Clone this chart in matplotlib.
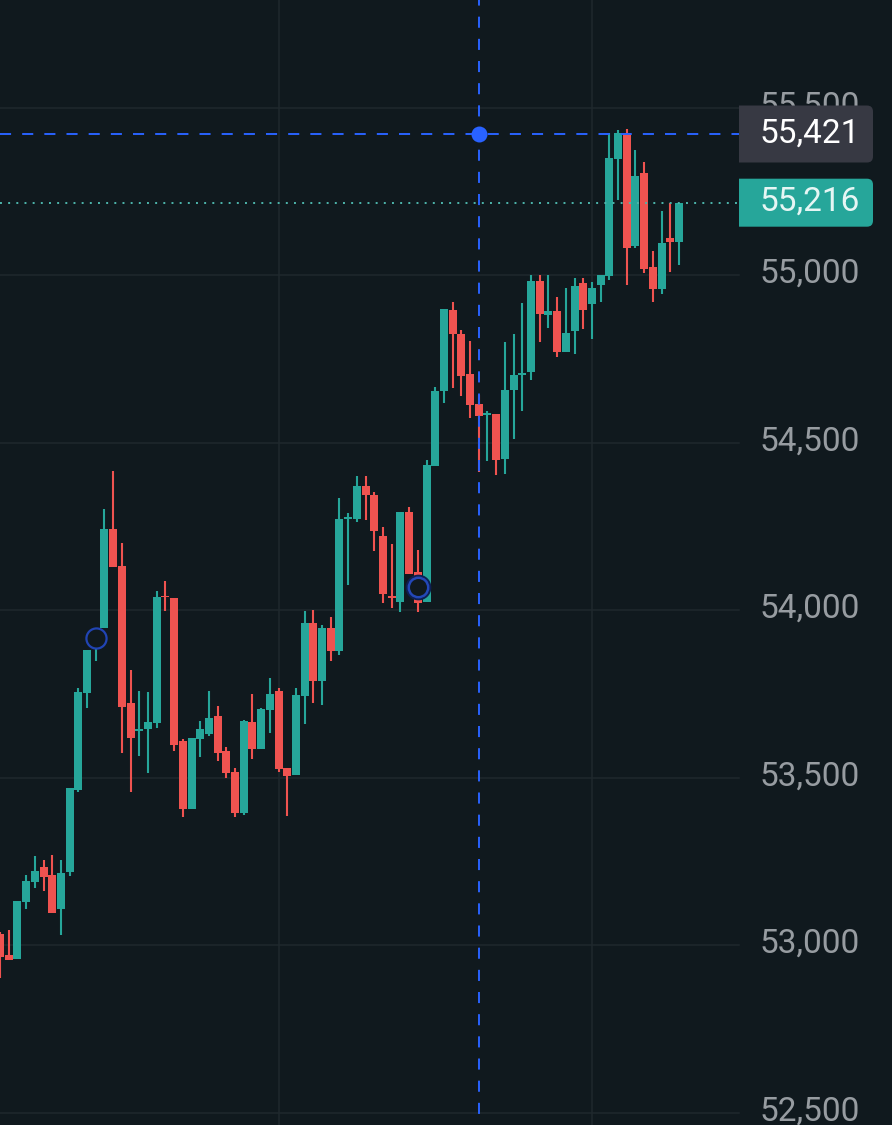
import matplotlib
matplotlib.use("Agg")
import matplotlib.pyplot as plt
from matplotlib.patches import PathPatch
from matplotlib.path import Path
from matplotlib.transforms import IdentityTransform, blended_transform_factory

plt.rcParams['font.family'] = ['Roboto', 'DejaVu Sans']

# candle data, one entry per bar
opens = [53033, 52970, 52958, 53128, 53188, 53233, 53209, 53107, 53218, 53463,
         53752, 53896, 53946, 54242, 54131, 53722, 53639, 53645, 53663, 54042,
         54036, 53609, 53406, 53615, 53630, 53684, 53579, 53516, 53394, 53666,
         53585, 53701, 53758, 53528, 53507, 53743, 53961, 53788, 53946, 53878,
         54272, 54272, 54370, 54343, 54221, 54042, 54024, 54293, 54113, 54024,
         54430, 54654, 54895, 54824, 54704, 54615, 54582, 54585, 54451, 54657,
         54701, 54710, 54982, 54880, 54892, 54770, 54833, 54976, 54913, 54970,
         54997, 55346, 55424, 55087, 55305, 55024, 54958, 55111, 55099]
closes = [52964, 52955, 53131, 53191, 53221, 53203, 53096, 53215, 53469, 53755,
          53881, 53934, 54242, 54128, 53710, 53618, 53645, 53666, 54039, 54039,
          53597, 53406, 53618, 53645, 53678, 53573, 53513, 53394, 53669, 53585,
          53704, 53749, 53525, 53504, 53746, 53961, 53788, 53946, 53878, 54272,
          54278, 54370, 54343, 54236, 54048, 54036, 54293, 54107, 54021, 54433,
          54654, 54898, 54824, 54698, 54612, 54579, 54588, 54448, 54657, 54701,
          54707, 54982, 54883, 54892, 54770, 54827, 54967, 54895, 54961, 55000,
          55349, 55424, 55081, 55296, 55018, 54958, 55096, 55099, 55216]
highs = [53039, 53045, 53131, 53209, 53266, 53254, 53269, 53254, 53469, 53767,
         53881, 53934, 54301, 54415, 54200, 53821, 53758, 53755, 54057, 54087,
         54036, 53615, 53618, 53669, 53758, 53713, 53591, 53528, 53672, 53749,
         53707, 53797, 53767, 53528, 53767, 53997, 54000, 53955, 53979, 54334,
         54290, 54400, 54400, 54352, 54248, 54197, 54293, 54307, 54179, 54448,
         54666, 54898, 54919, 54836, 54803, 54642, 54594, 54585, 54800, 54824,
         54916, 55000, 55000, 55000, 54934, 54961, 54991, 54991, 54979, 55000,
         55424, 55433, 55436, 55373, 55338, 55072, 55191, 55216, 55216]
lows = [52901, 52955, 52958, 53107, 53170, 53161, 53096, 53030, 53206, 53457,
        53707, 53848, 53946, 54128, 53573, 53457, 53564, 53513, 53648, 53997,
        53579, 53382, 53406, 53561, 53624, 53549, 53498, 53382, 53388, 53555,
        53585, 53633, 53516, 53385, 53507, 53660, 53722, 53716, 53848, 53866,
        54075, 54263, 54269, 54176, 54021, 54006, 53994, 54107, 53994, 54024,
        54430, 54618, 54663, 54639, 54573, 54412, 54445, 54403, 54406, 54510,
        54594, 54687, 54800, 54842, 54755, 54770, 54764, 54839, 54809, 54919,
        54985, 55224, 54970, 55081, 55006, 54919, 54943, 55009, 55030]

price_ticks = [52500, 53000, 53500, 54000, 54500, 55000, 55500]
time_grid = [32, 68]
circle_bars = [11, 48]
circle_prices = [53916, 54069]
cross_bar = 55
cross_price = 55421
last_price = 55216

BG = "#10191e"
GRID = "#1f282d"
UP = "#26a69a"
DOWN = "#ef5350"
BLUE = "#2962ff"
AXIS_TXT = "#979ca1"
W, H = 892, 1125
PLOT_RIGHT = 739 / W

fig = plt.figure(figsize=(W / 100, H / 100), dpi=100, facecolor=BG)
ax = fig.add_axes([0, 0, 1, 1], facecolor=BG)
ax.set_xlim(0, W / 8.705)
ax.set_ylim(52463, 55821)
ax.axis("off")

tr = blended_transform_factory(ax.transAxes, ax.transData)

# grid
for p in price_ticks:
    ax.plot([0, PLOT_RIGHT], [p, p], color=GRID, lw=1.1, transform=tr, zorder=1)
for b in time_grid:
    ax.axvline(b, color=GRID, lw=1.1, zorder=1)

# candles
for i in range(len(opens)):
    col = UP if closes[i] >= opens[i] else DOWN
    ax.vlines(i, lows[i], highs[i], color=col, lw=1.5, zorder=2)
    ax.bar(i, abs(closes[i] - opens[i]), bottom=min(opens[i], closes[i]), width=0.92,
           color=col, linewidth=0, zorder=3)

# circles on top of the two bars
ax.plot(circle_bars[0], circle_prices[0], "o", ms=14.5, mfc=BG, mec="#2144b4", mew=1.6, zorder=5)
ax.plot(circle_bars[1], circle_prices[1], "o", ms=17, mfc=BG, mec="#0d1f52", mew=1.5, zorder=5)
ax.plot(circle_bars[1], circle_prices[1], "o", ms=14, mfc=BG, mec="#2347b8", mew=1.8, zorder=6)

# last price line
ax.plot([0, PLOT_RIGHT], [last_price, last_price], color="#4db6ac", lw=1.4,
        dashes=(1, 3.2), transform=tr, zorder=4)

# crosshair
ax.plot([0, PLOT_RIGHT], [cross_price, cross_price], color=BLUE, lw=1.4,
        dashes=(5.7, 5.7), transform=tr, zorder=7)
ax.axvline(cross_bar, color=BLUE, lw=1.4, linestyle=(5.7, (5.7, 5.7)), zorder=7)
ax.plot(cross_bar, cross_price, "o", ms=11.5, color=BLUE, mew=0, zorder=8)

# price scale labels
for p in price_ticks:
    ax.text(760 / W, p + 4, f"{p:,}", transform=tr, color=AXIS_TXT, fontsize=24,
            va="center", ha="left", zorder=9)


def price_box(price, height, fill, txt_col):
    # box in screen pixels, centred on the price, only the right corners are round
    yc = ax.transData.transform((0, price))[1]
    l, r = 739, 873
    b, t = yc - height / 2, yc + height / 2
    rad = 6
    verts = [(l, b), (r - rad, b), (r, b), (r, b + rad), (r, t - rad), (r, t), (r - rad, t), (l, t), (l, b)]
    codes = [Path.MOVETO, Path.LINETO, Path.CURVE3, Path.CURVE3, Path.LINETO,
             Path.CURVE3, Path.CURVE3, Path.LINETO, Path.CLOSEPOLY]
    ax.add_patch(PathPatch(Path(verts, codes), fc=fill, ec="none",
                           transform=IdentityTransform(), zorder=10))
    ax.text(760 / W, price + 2, f"{price:,}", transform=tr, color=txt_col, fontsize=24,
            va="center", ha="left", zorder=11)


fig.canvas.draw()
price_box(cross_price, 57, "#373943", "#ffffff")
price_box(last_price, 48, "#26a69a", "#e6f6f4")

fig.savefig("out.png", dpi=100, facecolor=BG)
